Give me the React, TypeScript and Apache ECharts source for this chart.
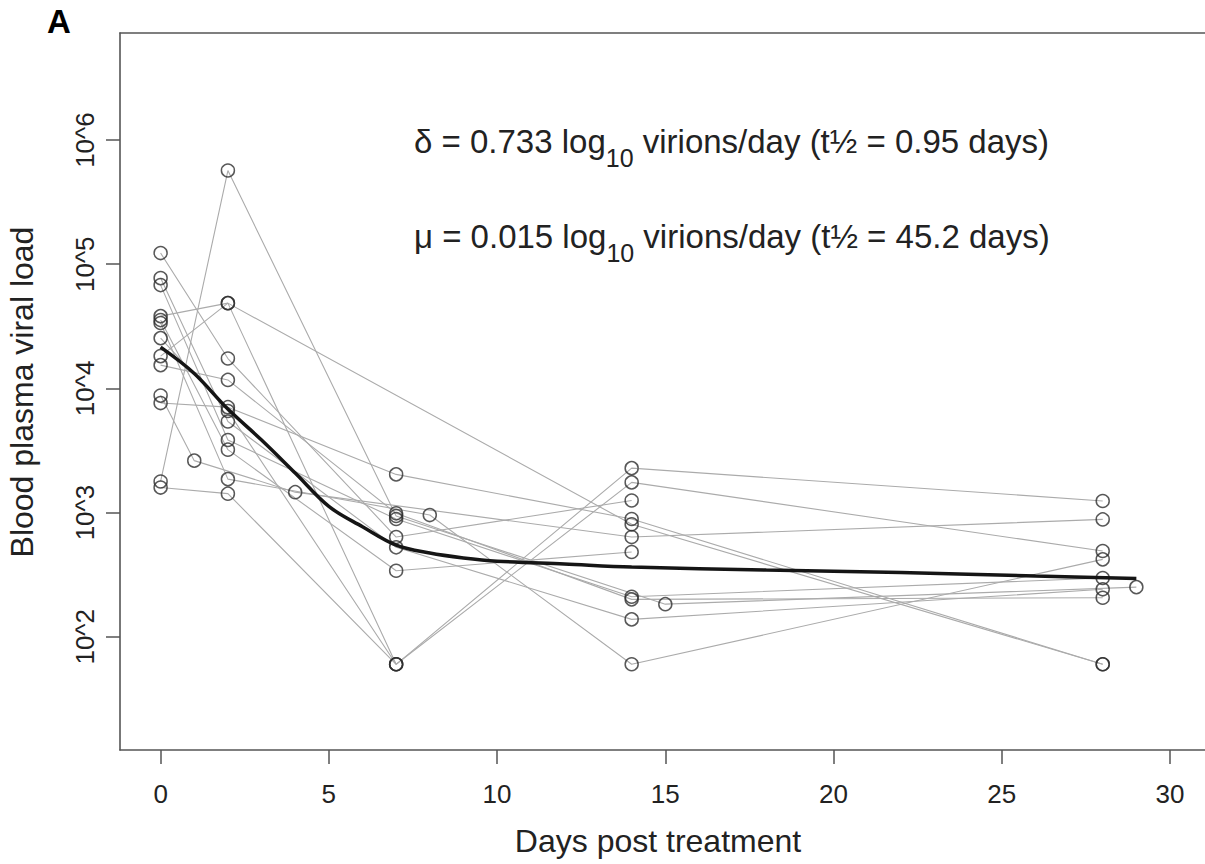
import React, { useEffect, useRef } from "react";
import * as echarts from "echarts";

// ---- Data ----
// Each subject: sampling days and blood plasma viral load (copies)
const s1Days = [0, 2, 7, 14, 28];
const s1Load = [1590, 1420, 60, 2280, 1240];
const s2Days = [0, 2, 7, 15, 29];
const s2Load = [1780, 568000, 938, 183, 251];
const s3Days = [0, 2, 7, 14, 28];
const s3Load = [7620, 7060, 2030, 887, 60];
const s4Days = [0, 1, 4, 14, 28];
const s4Load = [8750, 2620, 1460, 635, 881];
const s5Days = [0, 2, 8, 14, 28];
const s5Load = [33600, 1860, 955, 60, 420];
const s6Days = [0, 2, 7, 14];
const s6Load = [123000, 17400, 635, 1250];
const s7Days = [0, 2, 7, 14, 28];
const s7Load = [77300, 5410, 525, 138, 241];
const s8Days = [0, 2, 7, 14, 28];
const s8Load = [67900, 3840, 887, 210, 297];
const s9Days = [0, 2, 14, 28];
const s9Load = [38200, 48600, 804, 60];
const s10Days = [0, 2, 7, 14];
const s10Load = [35500, 3210, 340, 481];
const s11Days = [0, 2, 7, 14, 28];
const s11Load = [25400, 6580, 60, 1750, 490];
const s12Days = [0, 2, 7];
const s12Load = [18200, 48600, 60];
const s13Days = [0, 2, 7, 14, 28];
const s13Load = [15400, 11700, 986, 200, 206];

// Fitted biphasic decay curve
const fitDays = [0, 1, 2, 3, 4, 5, 6, 7, 8, 9, 10, 12, 14, 18, 22, 26, 29];
const fitLoad = [21500, 13200, 6810, 3840, 2080, 1120, 769, 547, 472, 431, 406, 385, 364, 344, 329, 308, 294];

const xTicks = [0, 5, 10, 15, 20, 25, 30];
const yTicks = [2, 3, 4, 5, 6]; // log10 exponents

const subjects = [
  [s1Days, s1Load], [s2Days, s2Load], [s3Days, s3Load], [s4Days, s4Load],
  [s5Days, s5Load], [s6Days, s6Load], [s7Days, s7Load], [s8Days, s8Load],
  [s9Days, s9Load], [s10Days, s10Load], [s11Days, s11Load], [s12Days, s12Load],
  [s13Days, s13Load],
];

const F = '"Liberation Sans", Arial, Helvetica, sans-serif';
const X_MIN = -1.207;
const X_MAX = 31.04;

export default function App() {
  const ref = useRef<HTMLDivElement>(null);
  useEffect(() => {
    if (!ref.current) return;
    const chart = echarts.init(ref.current, undefined, { renderer: "svg" });
    const toPts = (d: number[], v: number[]) => d.map((x, i) => [x, Math.log10(v[i])]);
    const lineSeries: any[] = subjects.map(([d, v]) => ({
      type: "line",
      data: toPts(d as number[], v as number[]),
      showSymbol: false,
      symbol: "none",
      lineStyle: { color: "#ababab", width: 1.1 },
      z: 1,
      silent: true,
    }));
    const allPts: number[][] = [];
    subjects.forEach(([d, v]) => toPts(d as number[], v as number[]).forEach((p) => allPts.push(p)));
    const axisLineStyle = { color: "#555", width: 1.6 };
    const option: any = {
      animation: false,
      backgroundColor: "#fff",
      grid: { left: 120, top: 33, right: 0, bottom: 114, show: false },
      xAxis: [
        {
          type: "value", min: X_MIN, max: X_MAX, position: "bottom",
          axisLine: { show: true, onZero: false, lineStyle: axisLineStyle },
          splitLine: { show: false },
          axisTick: { show: true, length: 14, lineStyle: { color: "#555", width: 1.5 }, customValues: xTicks },
          axisLabel: {
            customValues: xTicks, fontSize: 26, fontFamily: F, color: "#222", margin: 31, lineHeight: 26,
          },
        },
        {
          type: "value", min: X_MIN, max: X_MAX, position: "top",
          axisLine: { show: true, onZero: false, lineStyle: axisLineStyle },
          splitLine: { show: false },
          axisTick: { show: false },
          axisLabel: { show: false },
        },
      ],
      yAxis: {
        type: "value", min: 1.088, max: 6.862,
        axisLine: { show: true, onZero: false, lineStyle: axisLineStyle },
        splitLine: { show: false },
        axisTick: { show: true, length: 14, lineStyle: { color: "#555", width: 1.5 }, customValues: yTicks },
        axisLabel: {
          customValues: yTicks, rotate: 90, fontSize: 26, fontFamily: F, color: "#222", margin: 22, lineHeight: 26,
          formatter: (v: number) => "10^" + Math.round(v),
        },
      },
      series: [
        ...lineSeries,
        {
          type: "scatter",
          data: allPts,
          symbol: "circle",
          symbolSize: 13,
          itemStyle: { color: "rgba(0,0,0,0)", borderColor: "#2e2e2e", borderWidth: 1.5 },
          z: 2,
          silent: true,
        },
        {
          type: "line",
          data: toPts(fitDays, fitLoad),
          smooth: 0.35,
          showSymbol: false,
          symbol: "none",
          lineStyle: { color: "#151515", width: 3.5 },
          z: 3,
          silent: true,
        },
      ],
      graphic: [
        {
          type: "text", x: 59, y: 21,
          style: { text: "A", fontSize: 33, fontWeight: "bold", fontFamily: F, fill: "#000", align: "center", verticalAlign: "middle" },
        },
        {
          type: "text", x: 22, y: 392, rotation: Math.PI / 2,
          style: { text: "Blood plasma viral load", fontSize: 32, fontFamily: F, fill: "#222", align: "center", verticalAlign: "middle" },
        },
        {
          type: "text", x: 658, y: 841,
          style: { text: "Days post treatment", fontSize: 32, fontFamily: F, fill: "#222", align: "center", verticalAlign: "middle" },
        },
        {
          type: "text", x: 414, y: 125,
          style: {
            text: "{m|δ = 0.733 log}{s|10}{m| virions/day (t½ = 0.95 days)}",
            align: "left", verticalAlign: "top",
            rich: {
              m: { fontSize: 33, fontFamily: F, fill: "#222", lineHeight: 32, verticalAlign: "top" },
              s: { fontSize: 25, fontFamily: F, fill: "#222", lineHeight: 24, verticalAlign: "top", padding: [20, 0, 0, 0] },
            },
          },
        },
        {
          type: "text", x: 414, y: 220,
          style: {
            text: "{m|μ = 0.015 log}{s|10}{m| virions/day (t½ = 45.2 days)}",
            align: "left", verticalAlign: "top",
            rich: {
              m: { fontSize: 33, fontFamily: F, fill: "#222", lineHeight: 32, verticalAlign: "top" },
              s: { fontSize: 25, fontFamily: F, fill: "#222", lineHeight: 24, verticalAlign: "top", padding: [20, 0, 0, 0] },
            },
          },
        },
      ],
    };
    chart.setOption(option);
    return () => chart.dispose();
  }, []);
  return <div ref={ref} style={{ width: 1205, height: 864, position: "absolute", left: 0, top: 0 }} />;
}
